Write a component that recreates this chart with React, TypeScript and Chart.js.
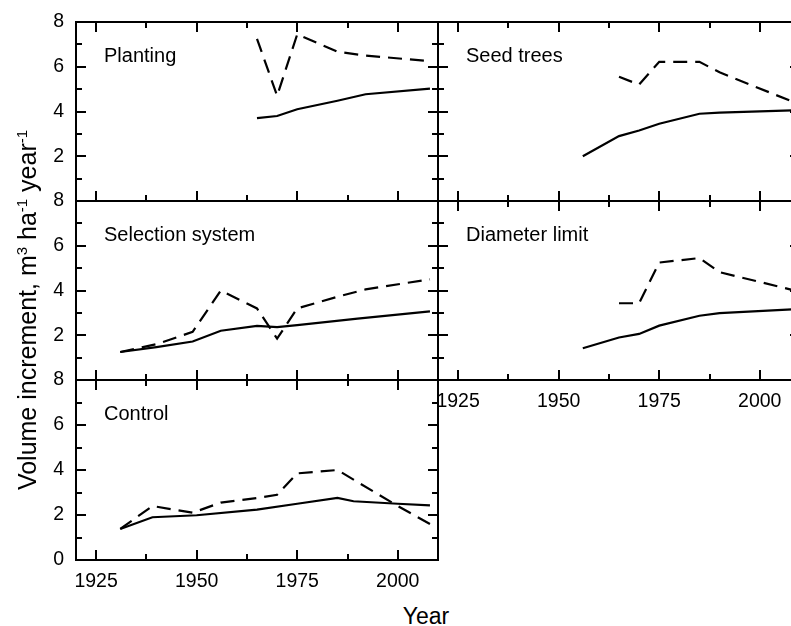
import React, { useEffect, useRef } from "react";
import { Chart, registerables } from "chart.js";

Chart.register(...registerables);

const FONT = "'Liberation Sans', Arial, Helvetica, sans-serif";

// x axis ticks
const xMajorTicks = [1925, 1950, 1975, 2000];
const xMinorTicks = [1937.5, 1962.5, 1987.5];
const yMajorTicks = [0, 2, 4, 6, 8];
const yMinorTicks = [1, 3, 5, 7];

// Planting
const plantingSolidYears = [1965, 1970, 1975, 1985, 1992, 2008];
const plantingSolid = [3.7, 3.8, 4.1, 4.48, 4.77, 5.02];
const plantingDashedYears = [1965, 1970, 1975, 1985, 1992, 2008];
const plantingDashed = [7.25, 4.7, 7.45, 6.67, 6.5, 6.25];

// Seed trees
const seedSolidYears = [1956, 1965, 1970, 1975, 1985, 1990, 2008];
const seedSolid = [2.0, 2.9, 3.15, 3.45, 3.9, 3.95, 4.05];
const seedDashedYears = [1965, 1970, 1975, 1985, 1990, 2008];
const seedDashed = [5.55, 5.2, 6.22, 6.22, 5.75, 4.45];

// Selection system
const selectionSolidYears = [1931, 1940, 1949, 1956, 1965, 1970, 1975, 1990, 2008];
const selectionSolid = [1.25, 1.47, 1.72, 2.2, 2.42, 2.36, 2.45, 2.74, 3.07];
const selectionDashedYears = [1931, 1940, 1949, 1956, 1965, 1970, 1975, 1985, 1992, 2008];
const selectionDashed = [1.25, 1.6, 2.15, 4.0, 3.2, 1.85, 3.2, 3.72, 4.05, 4.5];

// Diameter limit
const diameterSolidYears = [1956, 1965, 1970, 1975, 1985, 1990, 2008];
const diameterSolid = [1.42, 1.9, 2.06, 2.43, 2.87, 2.99, 3.16];
const diameterDashedYears = [1965, 1970, 1975, 1985, 1990, 2008];
const diameterDashed = [3.43, 3.43, 5.25, 5.45, 4.82, 4.03];

// Control
const controlSolidYears = [1931, 1939, 1950, 1965, 1975, 1985, 1989, 2000, 2008];
const controlSolid = [1.38, 1.9, 1.99, 2.24, 2.5, 2.76, 2.61, 2.5, 2.43];
const controlDashedYears = [1931, 1939, 1949, 1956, 1965, 1970, 1975, 1985, 2000, 2008];
const controlDashed = [1.38, 2.4, 2.1, 2.55, 2.75, 2.9, 3.85, 4.0, 2.4, 1.6];

const PAD_L = 60;
const PAD_T = 30;
const PAD_R = 14;
const PAD_B = 40;

type PanelCfg = {
  label: string;
  solidX: number[];
  solidY: number[];
  dashX: number[];
  dashY: number[];
  left: number;
  top: number;
  width: number;
  height: number;
  showY: boolean;
  showX: boolean;
  showZero: boolean;
  ticksTop: boolean;
  ticksBottom: boolean;
};

const panels: PanelCfg[] = [
  {
    label: "Planting",
    solidX: plantingSolidYears, solidY: plantingSolid,
    dashX: plantingDashedYears, dashY: plantingDashed,
    left: 76, top: 22, width: 362, height: 179,
    showY: true, showX: false, showZero: false, ticksTop: true, ticksBottom: true,
  },
  {
    label: "Seed trees",
    solidX: seedSolidYears, solidY: seedSolid,
    dashX: seedDashedYears, dashY: seedDashed,
    left: 438, top: 22, width: 362, height: 179,
    showY: false, showX: false, showZero: false, ticksTop: true, ticksBottom: true,
  },
  {
    label: "Selection system",
    solidX: selectionSolidYears, solidY: selectionSolid,
    dashX: selectionDashedYears, dashY: selectionDashed,
    left: 76, top: 201, width: 362, height: 179,
    showY: true, showX: false, showZero: false, ticksTop: false, ticksBottom: true,
  },
  {
    label: "Diameter limit",
    solidX: diameterSolidYears, solidY: diameterSolid,
    dashX: diameterDashedYears, dashY: diameterDashed,
    left: 438, top: 201, width: 362, height: 179,
    showY: false, showX: true, showZero: false, ticksTop: true, ticksBottom: true,
  },
  {
    label: "Control",
    solidX: controlSolidYears, solidY: controlSolid,
    dashX: controlDashedYears, dashY: controlDashed,
    left: 76, top: 380, width: 362, height: 180,
    showY: true, showX: true, showZero: true, ticksTop: true, ticksBottom: true,
  },
];

function makeFramePlugin(cfg: PanelCfg) {
  return {
    id: "frame",
    afterDatasetsDraw(chart: any) {
      const ctx = chart.ctx as CanvasRenderingContext2D;
      const { left, top, right, bottom } = chart.chartArea;
      const xs = chart.scales.x;
      const ys = chart.scales.y;
      ctx.save();
      ctx.strokeStyle = "#000";
      ctx.lineWidth = 2;
      ctx.beginPath();
      ctx.rect(left, top, right - left, bottom - top);
      ctx.stroke();
      ctx.beginPath();
      const drawX = (vals: number[], len: number) => {
        vals.forEach((v) => {
          const px = Math.round(xs.getPixelForValue(v));
          if (cfg.ticksBottom) {
            ctx.moveTo(px, bottom);
            ctx.lineTo(px, bottom - len);
          }
          if (cfg.ticksTop) {
            ctx.moveTo(px, top);
            ctx.lineTo(px, top + len);
          }
        });
      };
      const drawY = (vals: number[], len: number) => {
        vals.forEach((v) => {
          const py = Math.round(ys.getPixelForValue(v));
          ctx.moveTo(left, py);
          ctx.lineTo(left + len, py);
          ctx.moveTo(right, py);
          ctx.lineTo(right - len, py);
        });
      };
      drawX(xMajorTicks, 10);
      drawX(xMinorTicks, 6);
      drawY(yMajorTicks, 10);
      drawY(yMinorTicks, 6);
      ctx.stroke();
      ctx.fillStyle = "#000";
      ctx.font = `20px ${FONT}`;
      ctx.textBaseline = "middle";
      ctx.textAlign = "left";
      ctx.fillText(cfg.label, left + 28, top + 34);
      ctx.restore();
    },
  };
}

function Panel({ cfg }: { cfg: PanelCfg }) {
  const ref = useRef<HTMLCanvasElement | null>(null);
  const cw = cfg.width + PAD_L + PAD_R;
  const ch = cfg.height + PAD_T + PAD_B;
  useEffect(() => {
    if (!ref.current) return;
    const chart = new Chart(ref.current, {
      type: "line",
      data: {
        datasets: [
          {
            data: cfg.solidX.map((x, i) => ({ x, y: cfg.solidY[i] })),
            borderColor: "#000",
            borderWidth: 2.2,
            pointRadius: 0,
            fill: false,
            tension: 0,
          },
          {
            data: cfg.dashX.map((x, i) => ({ x, y: cfg.dashY[i] })),
            borderColor: "#000",
            borderWidth: 2.2,
            borderDash: [14, 8],
            pointRadius: 0,
            fill: false,
            tension: 0,
          },
        ],
      },
      options: {
        responsive: false,
        animation: false,
        devicePixelRatio: 1,
        layout: { padding: { top: PAD_T, right: PAD_R, left: 0, bottom: 0 } },
        plugins: {
          legend: { display: false },
          tooltip: { enabled: false },
          title: { display: false },
        },
        scales: {
          x: {
            type: "linear",
            position: "bottom",
            min: 1920,
            max: 2010,
            afterBuildTicks: (s: any) => {
              s.ticks = xMajorTicks.map((v) => ({ value: v }));
            },
            afterFit: (s: any) => {
              s.height = PAD_B;
            },
            grid: { display: false, drawTicks: false },
            border: { display: false },
            ticks: {
              display: cfg.showX,
              padding: 10,
              autoSkip: false,
              maxRotation: 0,
              color: "#000",
              font: { family: FONT, size: 19.5 },
              callback: (v: any) => String(v),
            },
          },
          y: {
            type: "linear",
            position: "left",
            min: 0,
            max: 8,
            afterBuildTicks: (s: any) => {
              s.ticks = yMajorTicks.map((v) => ({ value: v }));
            },
            afterFit: (s: any) => {
              s.width = PAD_L;
            },
            grid: { display: false, drawTicks: false },
            border: { display: false },
            ticks: {
              display: cfg.showY,
              padding: 12,
              autoSkip: false,
              color: "#000",
              font: { family: FONT, size: 19.5 },
              callback: (v: any) => (v === 0 && !cfg.showZero ? "" : String(v)),
            },
          },
        },
      },
      plugins: [makeFramePlugin(cfg)],
    } as any);
    return () => chart.destroy();
  }, []);
  return (
    <canvas
      ref={ref}
      width={cw}
      height={ch}
      style={{
        position: "absolute",
        left: cfg.left - PAD_L,
        top: cfg.top - PAD_T,
        width: cw,
        height: ch,
      }}
    />
  );
}

export default function App() {
  return (
    <div
      style={{
        position: "fixed",
        left: 0,
        top: 0,
        width: 791,
        height: 626,
        overflow: "hidden",
        background: "#fff",
        fontFamily: FONT,
      }}
    >
      {panels.map((p) => (
        <Panel key={p.label} cfg={p} />
      ))}
      <div
        style={{
          position: "absolute",
          left: 27 - 220,
          top: 310 - 15,
          width: 440,
          height: 30,
          lineHeight: "30px",
          fontSize: 25,
          textAlign: "center",
          whiteSpace: "nowrap",
          transform: "rotate(-90deg)",
          transformOrigin: "50% 50%",
          color: "#000",
        }}
      >
        Volume increment, m
        <sup style={{ fontSize: "0.6em", lineHeight: 0 }}>3</sup> ha
        <sup style={{ fontSize: "0.6em", lineHeight: 0 }}>-1</sup> year
        <sup style={{ fontSize: "0.6em", lineHeight: 0 }}>-1</sup>
      </div>
      <div
        style={{
          position: "absolute",
          left: 426 - 60,
          top: 605,
          width: 120,
          fontSize: 23,
          lineHeight: "23px",
          textAlign: "center",
          color: "#000",
        }}
      >
        Year
      </div>
    </div>
  );
}
